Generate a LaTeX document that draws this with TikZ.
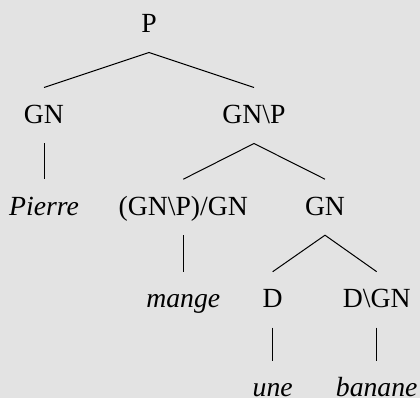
\documentclass[tikz,border=0pt]{standalone}
\usepackage{fontspec}
\setmainfont{Liberation Serif}
\definecolor{bgcol}{RGB}{227,227,227}
\begin{document}
\begin{tikzpicture}[x=1pt,y=-1pt,
  cat/.style={anchor=base,inner xsep=0pt,inner ysep=17.3pt,text height=18.3pt,text depth=2.7pt,
    font=\fontsize{27.7}{33}\selectfont},
  word/.style={cat,font=\fontsize{27.7}{33}\selectfont\itshape},
  leafword/.style={word,inner ysep=0pt,text height=35.6pt,text depth=0pt},
  edge/.style={line width=1pt,black}]
\fill[bgcol] (0,0) rectangle (420,398);
\useasboundingbox (0,0) rectangle (420,398);
\node[cat] (P) at (149,32.3) {P};
\node[cat] (GNa) at (44,123.3) {GN};
\node[cat] (GNP) at (254,123.3) {GN\textbackslash P};
\node[word] (Pierre) at (44,215) {Pierre};
\node[cat] (TV) at (183.3,215) {(GN\textbackslash P)/GN};
\node[cat] (GNb) at (325,215) {GN};
\node[word] (mange) at (183.3,307.5) {mange};
\node[cat] (D) at (272.7,307.5) {D};
\node[cat] (DGN) at (376.7,307.5) {D\textbackslash GN};
\node[leafword] (une) at (272.7,396.3) {une};
\node[leafword] (banane) at (376.7,396.3) {banane};
\draw[edge] (GNa.north) -- (P.south) -- (GNP.north);
\draw[edge] (GNa.south) -- (Pierre.north);
\draw[edge] (TV.north) -- (GNP.south) -- (GNb.north);
\draw[edge] (TV.south) -- (mange.north);
\draw[edge] (D.north) -- (GNb.south) -- (DGN.north);
\draw[edge] (D.south) -- (une.north);
\draw[edge] (DGN.south) -- (banane.north);
\end{tikzpicture}
\end{document}
